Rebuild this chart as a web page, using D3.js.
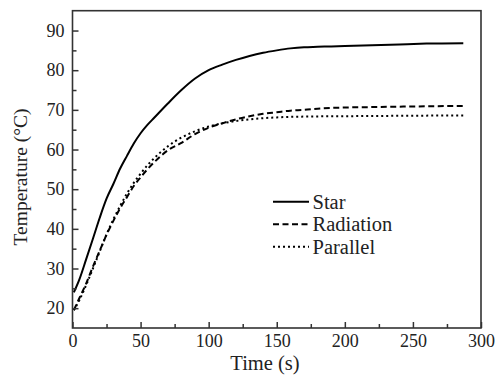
<!DOCTYPE html>
<html>
<head>
<meta charset="utf-8">
<script src="https://cdn.jsdelivr.net/npm/d3@7"></script>
<style>
	html, body { margin: 0; padding: 0; background: #fff; }
	svg { display: block; }
</style>
</head>
<body>
<svg id="chart"></svg>
<script>
// data (time in s, temperature in °C)
const starTime = [1, 5, 10, 15, 20, 25, 30, 35, 40, 45, 50, 55, 60, 70, 80, 90, 100, 110, 120, 130, 140, 150, 160, 170, 180, 190, 200, 220, 240, 260, 287];
const starTemp = [24.0, 27.2, 32.3, 37.5, 42.8, 47.6, 51.3, 55.2, 58.4, 61.5, 64.1, 66.2, 68.0, 71.6, 75.0, 77.9, 80.0, 81.4, 82.6, 83.6, 84.4, 85.0, 85.5, 85.8, 85.9, 86.0, 86.1, 86.3, 86.5, 86.7, 86.8];

const radTime = [1, 5, 10, 15, 20, 25, 30, 35, 40, 45, 50, 55, 60, 70, 80, 90, 100, 110, 120, 130, 140, 150, 160, 170, 180, 200, 220, 240, 260, 287];
const radTemp = [19.5, 22.5, 26.2, 30.5, 34.5, 38.5, 42.0, 45.2, 48.0, 50.8, 53.0, 55.0, 56.8, 59.8, 61.7, 63.9, 65.5, 66.6, 67.6, 68.4, 69.0, 69.4, 69.8, 70.0, 70.3, 70.6, 70.7, 70.8, 70.9, 71.0];

const parTime = [1, 5, 10, 15, 20, 25, 30, 35, 40, 45, 50, 55, 60, 70, 80, 90, 100, 110, 120, 130, 140, 150, 170, 200, 240, 287];
const parTemp = [19.5, 22.0, 25.8, 30.0, 34.3, 38.6, 42.4, 45.8, 48.9, 51.6, 53.9, 56.0, 57.8, 60.8, 63.0, 64.6, 65.8, 66.6, 67.2, 67.6, 67.9, 68.1, 68.3, 68.4, 68.5, 68.6];

const seriesNames = ["Star", "Radiation", "Parallel"];
const xTicks = [0, 50, 100, 150, 200, 250, 300];
const yTicks = [20, 30, 40, 50, 60, 70, 80, 90];

const width = 502;
const height = 378;
const serif = "Liberation Serif, Times New Roman, Times, Tinos, Noto Serif, DejaVu Serif, FreeSerif, serif";

const svg = d3.select("#chart")
              .attr("width", width)
              .attr("height", height)
              .style("font-family", serif);

// plot box
const x0 = 72.5, x1 = 481, y0 = 10.7, y1 = 328;

const xScale = d3.scaleLinear([0, 300], [x0, x1]);
const yScale = d3.scaleLinear([15, 95], [y1, y0]);

const dashes = ["none", "6,3.5", "2,3"];
const series = [
	d3.zip(starTime, starTemp),
	d3.zip(radTime, radTemp),
	d3.zip(parTime, parTemp),
];

const line = d3.line()
               .x(d => xScale(d[0]))
               .y(d => yScale(d[1]))
               .curve(d3.curveMonotoneX);

// curves
svg.append("g")
   .selectAll("path")
   .data(series)
   .join("path")
   .attr("d", d => line(d))
   .attr("fill", "none")
   .attr("stroke", "#000")
   .attr("stroke-width", 2)
   .attr("stroke-dasharray", (d, i) => dashes[i]);

// axes (ticks point inward)
const xAxis = d3.axisBottom(xScale).tickValues(xTicks).tickSize(-6).tickPadding(6);
const xMinor = d3.axisBottom(xScale).tickValues(d3.range(25, 300, 50)).tickSize(-4).tickFormat("");
const yAxis = d3.axisLeft(yScale).tickValues(yTicks).tickSize(-6).tickPadding(8);
const yMinor = d3.axisLeft(yScale).tickValues(d3.range(25, 95, 10)).tickSize(-4).tickFormat("");

const styleAxis = g => {
	g.attr("font-family", null).attr("font-size", null);
	g.select(".domain").remove();
	g.selectAll(".tick line").attr("stroke", "#333").attr("stroke-width", 1.5);
	g.selectAll("text")
	 .style("font-family", serif)
	 .style("font-size", "18px")
	 .attr("fill", "#222");
};

svg.append("g").attr("transform", `translate(0,${y1})`).call(xAxis).call(styleAxis)
   .selectAll("text").attr("dy", "0.71em");
svg.append("g").attr("transform", `translate(0,${y1})`).call(xMinor).call(styleAxis);
svg.append("g").attr("transform", `translate(${x0},0)`).call(yAxis).call(styleAxis);
svg.append("g").attr("transform", `translate(${x0},0)`).call(yMinor).call(styleAxis);

// frame
svg.append("rect")
   .attr("x", x0)
   .attr("y", y0)
   .attr("width", x1 - x0)
   .attr("height", y1 - y0)
   .attr("fill", "none")
   .attr("stroke", "#333")
   .attr("stroke-width", 1.6);

// axis titles
svg.append("text")
   .attr("x", 265)
   .attr("y", 370)
   .attr("text-anchor", "middle")
   .style("font-family", serif)
   .style("font-size", "20.5px")
   .attr("fill", "#222")
   .text("Time (s)");

svg.append("text")
   .attr("transform", "translate(27,177) rotate(-90)")
   .attr("text-anchor", "middle")
   .style("font-family", serif)
   .style("font-size", "19.5px")
   .attr("fill", "#222")
   .text("Temperature (°C)");

// legend
const legend = svg.append("g")
                  .selectAll("g")
                  .data(seriesNames)
                  .join("g")
                  .attr("transform", (d, i) => `translate(273,${201.7 + i * 22.5})`);

legend.append("line")
      .attr("x1", 0)
      .attr("x2", 36)
      .attr("stroke", "#000")
      .attr("stroke-width", 2)
      .attr("stroke-dasharray", (d, i) => dashes[i]);

legend.append("text")
      .attr("x", 39.5)
      .attr("y", 7)
      .style("font-family", serif)
      .style("font-size", "20.5px")
      .attr("fill", "#222")
      .text(d => d);
</script>
</body>
</html>
